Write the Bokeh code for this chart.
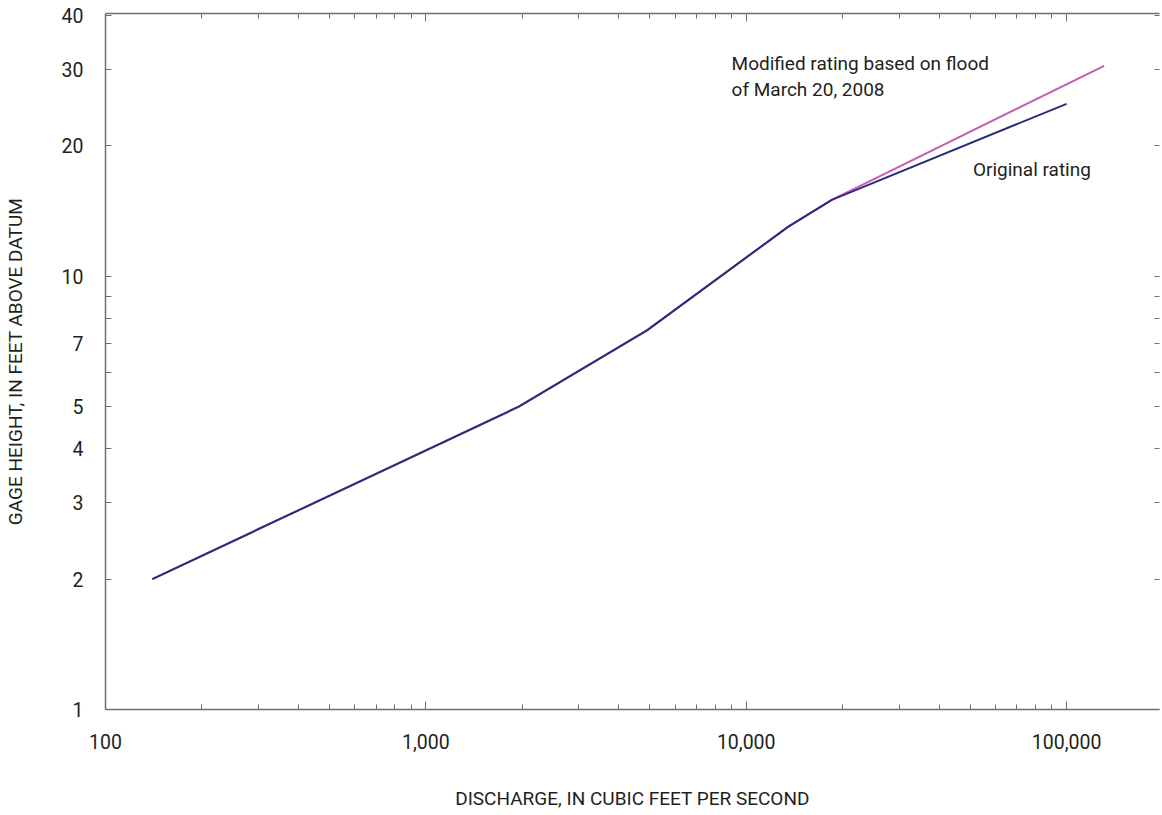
from bokeh.plotting import figure
from bokeh.models import (LogAxis, FixedTicker, CustomJSTickFormatter, Label, Range1d)
from bokeh.embed import file_html
from bokeh.resources import INLINE

# ---- data ----
discharge_original = [140, 1950, 4900, 13500, 18500, 100000]
stage_original = [2.0, 5.0, 7.5, 13.0, 15.0, 25.0]
discharge_modified = [140, 1950, 4900, 13500, 18500, 131000]
stage_modified = [2.0, 5.0, 7.5, 13.0, 15.0, 30.6]

x_major_ticks = [100, 1000, 10000, 100000]
x_major_labels = ["100", "1,000", "10,000", "100,000"]
x_minor_ticks = [m * d for d in (100, 1000, 10000, 100000) for m in range(2, 10)]
y_ticks = [1, 2, 3, 4, 5, 6, 7, 8, 9, 10, 20, 30, 40]
y_labeled = [1, 2, 3, 4, 5, 7, 10, 20, 30, 40]

FONT = "Roboto"
TEXT = "#231f20"
AXIS = "#6d6e71"
NAVY = "#2e2b7c"
PINK = "#c65cb3"

p = figure(width=1162, height=812, x_axis_type="log", y_axis_type="log",
           x_range=Range1d(100, 195000), y_range=Range1d(1, 40.4),
           output_backend="svg", toolbar_location=None,
           min_border_left=104, min_border_right=1, min_border_top=13,
           min_border_bottom=99)
p.outline_line_color = None
p.xgrid.visible = False
p.ygrid.visible = False

x_fmt = CustomJSTickFormatter(args=dict(t=x_major_ticks, l=x_major_labels), code="""
const i = t.findIndex(v => Math.abs(v - tick) < 1e-6 * v);
return i >= 0 ? l[i] : '';
""")
y_fmt = CustomJSTickFormatter(args=dict(t=y_labeled), code="""
return t.some(v => Math.abs(v - tick) < 1e-9) ? String(Math.round(tick)) : '';
""")
blank_fmt = CustomJSTickFormatter(code="return ' ';")

def style_axis(ax, ticker, major_len, minor_len):
    ax.ticker = ticker
    ax.axis_line_color = AXIS
    ax.axis_line_width = 1.5
    ax.major_tick_line_color = AXIS
    ax.minor_tick_line_color = AXIS
    ax.major_tick_in = major_len
    ax.major_tick_out = 0
    ax.minor_tick_in = minor_len
    ax.minor_tick_out = 0

xa = p.xaxis[0]
style_axis(xa, FixedTicker(ticks=x_major_ticks, minor_ticks=x_minor_ticks), 8, 5)
xa.formatter = x_fmt
xa.major_label_text_font = FONT
xa.major_label_text_font_size = "19.5px"
xa.major_label_text_color = TEXT
xa.major_label_standoff = 24
xa.axis_label = "DISCHARGE, IN CUBIC FEET PER SECOND"
xa.axis_label_text_font = FONT
xa.axis_label_text_font_size = "19px"
xa.axis_label_text_font_style = "normal"
xa.axis_label_text_color = TEXT
xa.axis_label_standoff = 35

ya = p.yaxis[0]
style_axis(ya, FixedTicker(ticks=y_ticks, minor_ticks=[]), 6, 0)
ya.formatter = y_fmt
ya.major_label_text_font = FONT
ya.major_label_text_font_size = "19.5px"
ya.major_label_text_color = TEXT
ya.major_label_standoff = 22
ya.axis_label = "GAGE HEIGHT, IN FEET ABOVE DATUM"
ya.axis_label_text_font = FONT
ya.axis_label_text_font_size = "19px"
ya.axis_label_text_font_style = "normal"
ya.axis_label_text_color = TEXT
ya.axis_label_standoff = 32

top = LogAxis()
style_axis(top, FixedTicker(ticks=x_major_ticks, minor_ticks=x_minor_ticks), 8, 5)
top.formatter = blank_fmt
top.major_label_text_font_size = "1px"
top.major_label_standoff = 0
p.add_layout(top, "above")

right = LogAxis()
style_axis(right, FixedTicker(ticks=y_ticks, minor_ticks=[]), 5, 0)
right.axis_line_color = None
right.formatter = blank_fmt
right.major_label_text_font_size = "1px"
right.major_label_standoff = 0
p.add_layout(right, "right")

p.line(discharge_modified, stage_modified, line_color=PINK, line_width=2)
p.line(discharge_original, stage_original, line_color=NAVY, line_width=2)

for txt, x, y in [("Modified rating based on flood", 9000, 30.9),
                  ("of March 20, 2008", 9000, 27.0),
                  ("Original rating", 51000, 17.6)]:
    p.add_layout(Label(x=x, y=y, text=txt, text_font=FONT, text_font_size="19px",
                       text_color=TEXT, text_baseline="alphabetic", text_align="left"))

open("out.html", "w").write(file_html(p, INLINE))
